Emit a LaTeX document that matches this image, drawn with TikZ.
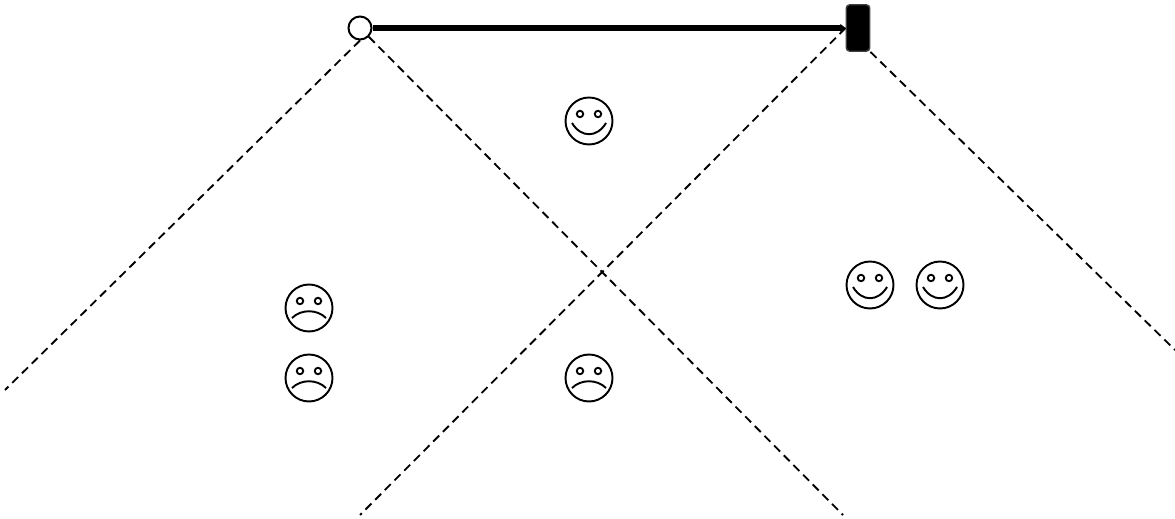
\documentclass[tikz,border=0pt]{standalone}
\usepackage{amsmath}
\usepackage{amsfonts}
\usetikzlibrary{arrows.meta}

\tikzset{
    dashline/.style={draw, line width=1.05pt, dash pattern=on 4.8pt off 3pt},
    face/.style={circle, draw, line width=1.1pt, minimum size=0.94cm, inner sep=0pt},
    eye/.style={circle, draw, line width=1.05pt, minimum size=0.13cm, inner sep=0pt},
    happy/.pic={
        \node[face] (-head) at (0,0) {};
        \node[eye] (-left) at (-9,-7) {};
        \node[eye] (-right) at (9,-7) {};
        \draw[line width=1.1pt] (-17,2) .. controls (-8,17) and (8,17) .. (17,2);
    },
    sad/.pic={
        \node[face] (-head) at (0,0) {};
        \node[eye] (-left) at (-9,-7) {};
        \node[eye] (-right) at (9,-7) {};
        \draw[line width=1.1pt] (-17,10) .. controls (-8,1) and (8,1) .. (17,10);
    }
}

\begin{document}
\begin{tikzpicture}[x=0.02cm, y=-0.02cm]
        \useasboundingbox (0,0) rectangle (1175,519);

        % Ends of the bar
        \node[circle, draw, fill=white, line width=1.15pt, minimum size=0.46cm, inner sep=0pt] (hub) at (360,28) {};
        \node[rectangle, rounded corners=2pt, draw=black!75, line width=0.8pt, fill=black, minimum width=0.47cm, minimum height=0.93cm, inner sep=0pt] (block) at (858,28) {};

        % Free ends of the dashed lines
        \coordinate (endA) at (5,390);
        \coordinate (endB) at (843,515);
        \coordinate (endC) at (360,515);
        \coordinate (endD) at (1175,350);

        \draw[line width=3.9pt, -{Triangle[length=3pt, width=4.5pt]}] (hub) -- (block.west);

        \draw[dashline] (hub.south) -- (endA);
        \draw[dashline] (hub.south east) -- (endB);
        \draw[dashline] (block.west) -- (endC);
        \draw[dashline] (block.south east) -- (endD);

        \pic (top) at (589,121) {happy};
        \pic (rightA) at (870,285) {happy};
        \pic (rightB) at (940,285) {happy};
        \pic (leftA) at (309,308) {sad};
        \pic (leftB) at (309,378) {sad};
        \pic (bottom) at (589,378) {sad};
    \end{tikzpicture}
\end{document}
